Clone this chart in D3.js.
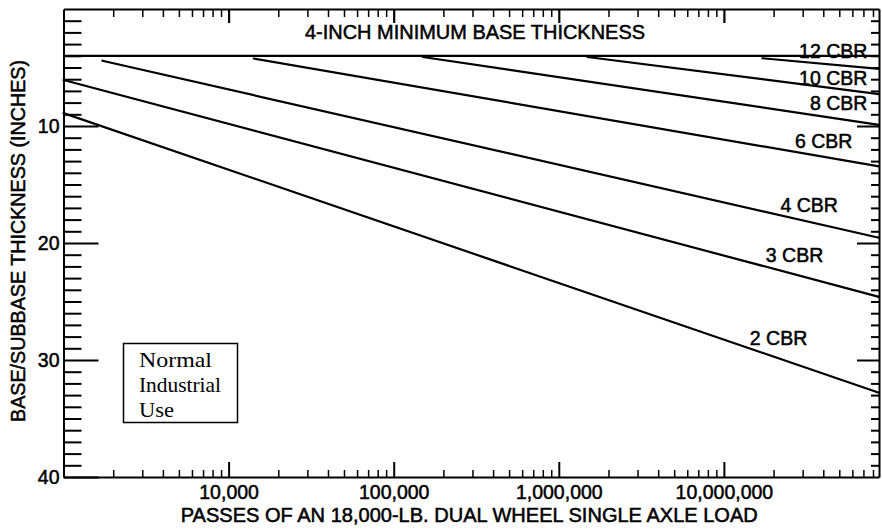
<!DOCTYPE html>
<html>
<head>
<meta charset="utf-8">
<script src="https://cdn.jsdelivr.net/npm/d3@7"></script>
<style>
  html, body { margin: 0; padding: 0; background: #fff; }
  svg { display: block; }
  text.sans { font-family: "Liberation Sans", Arial, sans-serif; fill: #000; stroke: #000; stroke-width: 0.5px; }
  text.serif { font-family: "Liberation Serif", "Times New Roman", serif; fill: #000; }
</style>
</head>
<body>
<svg id="chart" width="882" height="529"></svg>
<script>
// Design curves: base/subbase thickness needed for each subgrade CBR
const curveNames     = ["2 CBR", "3 CBR", "4 CBR", "6 CBR", "8 CBR", "10 CBR", "12 CBR"];
const startPasses    = [1000, 1000, 1720, 14200, 150000, 1490000, 17100000];
const startThickness = [8.9, 6.07, 4.42, 4.23, 4.1, 4.1, 4.21];
const endPasses      = [8.7e7, 8.7e7, 8.7e7, 8.7e7, 8.7e7, 8.7e7, 8.7e7];
const endThickness   = [32.8, 24.6, 19.55, 13.45, 9.9, 7.27, 5.12];

// Minimum base thickness rule (inches)
const minimumThickness = 4;

// Axis settings
const passDomain      = [1e3, 8.7e7];
const passTicks       = [1e4, 1e5, 1e6, 1e7];
const thicknessDomain = [0, 40];
const thicknessTicks  = [10, 20, 30, 40];

// Curve label anchors (right end of each label, in data units)
const labelPasses    = [3.2e7, 4.0e7, 4.9e7, 6.0e7, 7.4e7, 7.4e7, 7.4e7];
const labelThickness = [28.72, 21.62, 17.35, 11.88, 8.63, 6.5, 4.23];

const SIZE = 19.5;

const svg = d3.select("#chart");
const x = d3.scaleLog().domain(passDomain).range([63.5, 879]);
const y = d3.scaleLinear().domain(thicknessDomain).range([9, 477]);
const [L, R] = x.range();
const [T, B] = y.range();

const isDecade = v => Math.abs(Math.log10(v) - Math.round(Math.log10(v))) < 1e-9;
const minorPasses = x.ticks().filter(v => !isDecade(v));
const majorThick = [10, 20, 30];
const minorThick = d3.range(1, 40).filter(v => v % 10 !== 0);

function styleAxis(g, width) {
  g.selectAll(".domain").attr("stroke", "#000").attr("stroke-width", 2);
  g.selectAll(".tick line").attr("stroke", "#000").attr("stroke-width", width);
  g.attr("font-size", SIZE);
  g.selectAll(".tick text").attr("class", "sans");
}

// Bottom axis: labelled decades plus inward minor ticks
svg.append("g").attr("transform", `translate(0,${B})`)
  .call(d3.axisBottom(x).tickValues(minorPasses).tickFormat("").tickSize(-7).tickSizeOuter(0))
  .call(g => { styleAxis(g, 1.5); g.select(".domain").remove(); });
svg.append("g").attr("transform", `translate(0,${B})`)
  .call(d3.axisBottom(x).tickValues(passTicks).tickFormat(d3.format(",")).tickSize(-15).tickSizeOuter(0).tickPadding(8))
  .call(g => styleAxis(g, 2));

// Top axis: unlabelled log ticks pointing down
svg.append("g").attr("transform", `translate(0,${T})`)
  .call(d3.axisTop(x).tickValues(minorPasses).tickFormat("").tickSize(-8).tickSizeOuter(0))
  .call(g => styleAxis(g, 1.5));
svg.append("g").attr("transform", `translate(0,${T})`)
  .call(d3.axisTop(x).tickValues(passTicks).tickFormat("").tickSize(-14).tickSizeOuter(0))
  .call(g => { styleAxis(g, 2.2); g.select(".domain").remove(); });

// Left axis: inch ticks pointing right, labels outside
svg.append("g").attr("transform", `translate(${L},0)`)
  .call(d3.axisLeft(y).tickValues(minorThick).tickFormat("").tickSize(-18).tickSizeOuter(0))
  .call(g => styleAxis(g, 2));
svg.append("g").attr("transform", `translate(${L},0)`)
  .call(d3.axisLeft(y).tickValues(thicknessTicks).tickFormat(d => d).tickSize(-35).tickSizeOuter(0).tickPadding(4))
  .call(g => { styleAxis(g, 2); g.select(".domain").remove(); });

// Right axis: short inch ticks pointing left
svg.append("g").attr("transform", `translate(${R},0)`)
  .call(d3.axisRight(y).tickValues(minorThick).tickFormat("").tickSize(-8).tickSizeOuter(0))
  .call(g => styleAxis(g, 2));
svg.append("g").attr("transform", `translate(${R},0)`)
  .call(d3.axisRight(y).tickValues(majorThick).tickFormat("").tickSize(-22).tickSizeOuter(0))
  .call(g => { styleAxis(g, 2); g.select(".domain").remove(); });

// Axis titles
svg.append("text").attr("class", "sans")
  .attr("x", (L + R) / 2 - 2).attr("y", 521.5)
  .attr("text-anchor", "middle").attr("font-size", SIZE)
  .attr("textLength", 577).attr("lengthAdjust", "spacingAndGlyphs")
  .text("PASSES OF AN 18,000-LB. DUAL WHEEL SINGLE AXLE LOAD");

svg.append("text").attr("class", "sans")
  .attr("transform", `translate(25,${(T + B) / 2 - 2}) rotate(-90)`)
  .attr("text-anchor", "middle").attr("font-size", SIZE)
  .attr("textLength", 362).attr("lengthAdjust", "spacingAndGlyphs")
  .text("BASE/SUBBASE THICKNESS (INCHES)");

// Minimum thickness caption
svg.append("text").attr("class", "sans")
  .attr("x", 475).attr("y", y(minimumThickness) - 17)
  .attr("text-anchor", "middle").attr("font-size", SIZE)
  .attr("textLength", 340).attr("lengthAdjust", "spacingAndGlyphs")
  .text("4-INCH MINIMUM BASE THICKNESS");

// Curve labels
const curves = curveNames.map((name, i) => ({
  name,
  pts: [[startPasses[i], startThickness[i]], [endPasses[i], endThickness[i]]],
  lx: labelPasses[i],
  ly: labelThickness[i]
}));

svg.append("g").selectAll("text").data(curves).join("text")
  .attr("class", "sans")
  .attr("x", d => x(d.lx)).attr("y", d => y(d.ly))
  .attr("text-anchor", "end").attr("font-size", SIZE)
  .text(d => d.name);

// Minimum thickness line
svg.append("line")
  .attr("x1", L).attr("x2", R)
  .attr("y1", y(minimumThickness)).attr("y2", y(minimumThickness))
  .attr("stroke", "#000").attr("stroke-width", 2.2);

// CBR curves
const line = d3.line().x(d => x(d[0])).y(d => y(d[1]));
svg.append("g").selectAll("path").data(curves).join("path")
  .attr("d", d => line(d.pts))
  .attr("fill", "none").attr("stroke", "#000").attr("stroke-width", 2.2)
  .attr("stroke-linecap", "round");

// Usage note box
const note = svg.append("g");
note.append("rect")
  .attr("x", 123.5).attr("y", 343.5).attr("width", 114).attr("height", 79)
  .attr("fill", "#fff").attr("stroke", "#000").attr("stroke-width", 1.5);
const noteLines = [["Normal", 73], ["Industrial", 82], ["Use", 35]];
note.selectAll("text").data(noteLines).join("text")
  .attr("class", "serif")
  .attr("x", 139).attr("y", (d, i) => 366.5 + i * 25)
  .attr("font-size", 21)
  .attr("textLength", d => d[1]).attr("lengthAdjust", "spacingAndGlyphs")
  .text(d => d[0]);
</script>
</body>
</html>
